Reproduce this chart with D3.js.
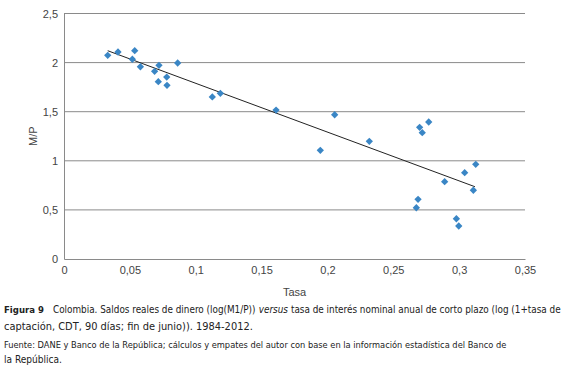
<!DOCTYPE html>
<html>
<head>
<meta charset="utf-8">
<script src="https://cdn.jsdelivr.net/npm/d3@7"></script>
<style>
  body { margin: 0; background: #fff; }
  svg { display: block; }
</style>
</head>
<body>
<div id="chart"></div>
<script>
// Scatter: real money balances vs short-term interest rate, Colombia 1984-2012

const tasa = [0.0332, 0.041, 0.0537, 0.0519, 0.058, 0.0688, 0.0721, 0.0716, 0.078, 0.0782,
  0.0863, 0.1126, 0.1187, 0.161, 0.1946, 0.2055, 0.2318, 0.270, 0.272, 0.2769,
  0.2688, 0.2675, 0.289, 0.3042, 0.3126, 0.3108, 0.2979, 0.2997];
const mp = [2.074, 2.108, 2.121, 2.034, 1.958, 1.911, 1.972, 1.806, 1.853, 1.769,
  1.996, 1.650, 1.687, 1.517, 1.107, 1.469, 1.198, 1.341, 1.286, 1.395,
  0.608, 0.522, 0.787, 0.879, 0.964, 0.700, 0.410, 0.336];

// linear trend (start, end)
const trendX = [0.0332, 0.312];
const trendY = [2.121, 0.736];

const xTicks = [0, 0.05, 0.1, 0.15, 0.2, 0.25, 0.3, 0.35];
const yTicks = [0, 0.5, 1, 1.5, 2, 2.5];

const figLabel = "Figura 9";
const line1Parts = ["Colombia. Saldos reales de dinero (log(M1/P))", "versus", "tasa de interés nominal anual de corto plazo (log (1+tasa de"];
const captionLines = [
  "captación, CDT, 90 días; fin de junio)). 1984-2012.",
  "Fuente: DANE y Banco de la República; cálculos y empates del autor con base en la información estadística del Banco de",
  "la República."
];

const W = 577, H = 368;
const svg = d3.select("#chart").
append("svg").
attr("width", W).
attr("height", H);

const pL = 64, pR = 525, pT = 13.5, pB = 259;

const x = d3.scaleLinear().domain([0, 0.35]).range([pL, pR]);
const y = d3.scaleLinear().domain([0, 2.5]).range([pB, pT]);

const fmt = d => d3.format("")(d).replace(".", ",");
const axisFont = "'Liberation Sans', Arial, sans-serif";

// grid lines
svg.append("g").
selectAll("line").
data(yTicks.filter(d => d > 0)).
join("line").
attr("x1", pL).
attr("x2", pR).
attr("y1", d => y(d)).
attr("y2", d => y(d)).
attr("stroke", "#8a8a8a").
attr("stroke-width", 1);

// axes
const yAxis = d3.axisLeft(y).tickValues(yTicks).tickFormat(fmt).tickSize(0).tickPadding(6);
const xAxis = d3.axisBottom(x).tickValues(xTicks).tickFormat(fmt).tickSize(0).tickPadding(7);

const gy = svg.append("g").
attr("transform", `translate(${pL},0)`).
call(yAxis);

const gx = svg.append("g").
attr("transform", `translate(0,${pB})`).
call(xAxis);

[gx, gy].forEach(g => {
  g.select(".domain").attr("stroke", "#8a8a8a");
  g.selectAll("text").
  attr("font-family", axisFont).
  attr("font-size", 11).
  attr("fill", "#444");
});

// axis titles
svg.append("text").
attr("x", x(0.175)).
attr("y", 296).
attr("text-anchor", "middle").
attr("font-family", axisFont).
attr("font-size", 11).
attr("fill", "#444").
text("Tasa");

svg.append("text").
attr("transform", `translate(37,${y(1.25)}) rotate(-90)`).
attr("text-anchor", "middle").
attr("font-family", axisFont).
attr("font-size", 11).
attr("fill", "#444").
text("M/P");

// trend line
svg.append("line").
attr("x1", x(trendX[0])).
attr("y1", y(trendY[0])).
attr("x2", x(trendX[1])).
attr("y2", y(trendY[1])).
attr("stroke", "#222").
attr("stroke-width", 1);

// points
const pts = tasa.map((t, i) => ({ t, v: mp[i] }));
svg.append("g").
selectAll("path").
data(pts).
join("path").
attr("transform", d => `translate(${x(d.t)},${y(d.v)})`).
attr("d", d3.symbol(d3.symbolDiamond2, 34)()).
attr("fill", "#3a86c5");

// caption
const capFont = "'DejaVu Sans Condensed', 'Liberation Sans Narrow', sans-serif";
const cap = svg.append("g").
attr("font-family", capFont).
attr("fill", "#222");

// shrink font size so the natural width fits the given width
function fitText(sel, w, fs = 11) {
  sel.attr("font-size", fs);
  const n = sel.node().getComputedTextLength();
  if (n > w) sel.attr("font-size", fs * w / n);
}

fitText(cap.append("text").
attr("x", 4).
attr("y", 313).
attr("font-weight", "bold").
text(figLabel), 40);

// first line: three pieces across 53..562, one common font size
const pieces = line1Parts.map((s, i) => cap.append("text").
attr("y", 313).
attr("font-size", 11).
attr("font-style", i === 1 ? "italic" : null).
text(s));
const gap = 3;
const natural = pieces.map(p => p.node().getComputedTextLength());
const k = Math.min(1, (561 - 53 - 2 * gap) / d3.sum(natural));
let cx = 53;
pieces.forEach((p, i) => {
  p.attr("x", cx).attr("font-size", 11 * k);
  cx += natural[i] * k + gap;
});

fitText(cap.append("text").attr("x", 4).attr("y", 330).text(captionLines[0]), 249);
fitText(cap.append("text").attr("x", 4).attr("y", 348).text(captionLines[1]), 503);
fitText(cap.append("text").attr("x", 4).attr("y", 363).text(captionLines[2]), 58);
</script>
</body>
</html>
